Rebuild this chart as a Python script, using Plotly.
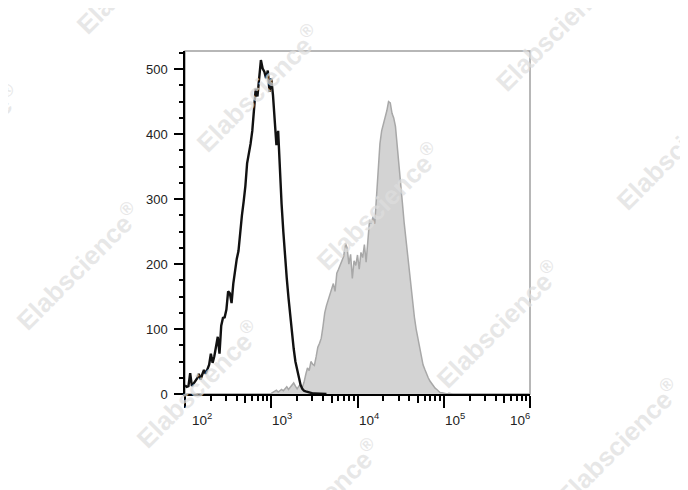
import numpy as np
import plotly.graph_objects as go

# ---- data ----
# histogram counts, channels spaced 0.02 decades apart
black_start = 2.00
black_counts = [13, 11, 12, 32, 12, 16, 19, 24, 31, 22, 30, 37, 31, 38, 45, 62, 48, 58, 76, 88,
                62, 105, 117, 118, 130, 158, 155, 140, 170, 192, 208, 220, 255, 275, 296, 320, 355,
                368, 385, 405, 435, 470, 458, 488, 514, 501, 496, 486, 498, 465, 486, 460, 419, 383,
                405, 337, 292, 250, 210, 178, 148, 120, 95, 70, 50, 36, 22, 14, 8, 5, 4, 3, 2, 2, 1,
                1, 1, 0, 1, 0, 0, 0, 0]
gray_start = 3.00
gray_counts = [1, 3, 4, 6, 3, 5, 7, 5, 9, 11, 7, 10, 14, 17, 12, 8, 12, 15, 10, 18, 30, 40, 36, 50,
               46, 44, 57, 72, 78, 86, 104, 125, 136, 145, 155, 165, 170, 158, 186, 192, 198, 204,
               212, 232, 225, 200, 215, 178, 205, 198, 214, 192, 218, 210, 230, 203, 240, 268, 262,
               273, 262, 298, 345, 385, 405, 415, 426, 436, 450, 448, 432, 425, 412, 385, 355, 325,
               295, 265, 240, 210, 195, 168, 140, 118, 100, 85, 70, 55, 45, 38, 30, 25, 20, 16, 12,
               9, 7, 4, 2, 2, 1, 1, 0, 1, 0, 0]
channel_step = 0.02

y_ticks = [0, 100, 200, 300, 400, 500]
x_decades = [2, 3, 4, 5, 6]
x_tick_labels = ["10<sup>2</sup>", "10<sup>3</sup>", "10<sup>4</sup>", "10<sup>5</sup>", "10<sup>6</sup>"]
watermark_text = "Elabscience<sup>®</sup>"

# ---- derived ----
bx = 10 ** (black_start + channel_step * np.arange(len(black_counts)))
gx = 10 ** (gray_start + channel_step * np.arange(len(gray_counts)))
major_x = [10 ** d for d in x_decades]
minor_x = [m * 10 ** d for d in x_decades[:-1] for m in (2, 3, 4, 6, 7, 8, 9)]
mid_x = [5 * 10 ** d for d in x_decades[:-1]]

fig = go.Figure()
fig.add_trace(go.Scatter(x=gx, y=gray_counts, mode="lines", fill="tozeroy",
                         fillcolor="#d3d3d3", line=dict(color="#a8a8a8", width=1.5),
                         hoverinfo="skip", showlegend=False))
fig.add_trace(go.Scatter(x=bx, y=black_counts, mode="lines",
                         line=dict(color="#111111", width=2.4),
                         hoverinfo="skip", showlegend=False))
# helper trace so the medium-tick axis is drawn
fig.add_trace(go.Scatter(x=[major_x[0]], y=[0], xaxis="x2", mode="lines",
                         hoverinfo="skip", showlegend=False))

font = dict(family="Liberation Sans, Arial, sans-serif", size=13, color="#222222")

# the page body adds an 8 px offset, so the figure is 8 px smaller than the window
fig.update_layout(
    width=680, height=482,
    margin=dict(l=177, r=158, t=43, b=96),
    paper_bgcolor="white", plot_bgcolor="white",
    font=font,
    xaxis=dict(type="log", range=[x_decades[0], x_decades[-1]], showgrid=False, zeroline=False,
               showline=True, linecolor="black", linewidth=2,
               ticks="outside", tickvals=major_x, ticklen=12, tickwidth=2, tickcolor="black",
               showticklabels=False,
               minor=dict(tickvals=minor_x, ticks="outside", ticklen=5, tickwidth=1.5,
                          tickcolor="black", showgrid=False)),
    xaxis2=dict(type="log", range=[x_decades[0], x_decades[-1]], overlaying="x", anchor="y",
                side="bottom", showgrid=False, zeroline=False, showline=False,
                ticks="outside", tickvals=mid_x, ticklen=8, tickwidth=1.5, tickcolor="black",
                showticklabels=False),
    yaxis=dict(range=[0, 528], showgrid=False, zeroline=False,
               showline=True, linecolor="black", linewidth=1.5,
               ticks="outside", tickvals=y_ticks, ticklen=9, tickwidth=2, tickcolor="black",
               ticklabelstandoff=4,
               minor=dict(dtick=25, ticks="outside", ticklen=4, tickwidth=1.5,
                          tickcolor="black", showgrid=False)),
)

# gray frame (top / right)
fig.add_shape(type="rect", xref="paper", yref="paper", x0=0, y0=0, x1=1, y1=1,
              line=dict(color="#a0a0a0", width=1.5), layer="below")

# x tick labels
for i, (v, t) in enumerate(zip(major_x, x_tick_labels)):
    if i == 0:
        anchor, shift = "left", 5
    elif i == len(major_x) - 1:
        anchor, shift = "right", 2
    else:
        anchor, shift = "left", -1
    fig.add_annotation(x=np.log10(v), y=0, xref="x", yref="paper", text=t, showarrow=False,
                       xanchor=anchor, yanchor="top", xshift=shift, yshift=-14,
                       font=dict(family=font["family"], size=13.5, color="#222222"))

# watermarks (pixel centres in the 688x490 page)
wm_px = [(138, -30), (258, 88), (378, 206), (498, 324), (618, 442),
         (-42, 148), (78, 266), (198, 384), (318, 502), (558, 28), (678, 146)]
pl, pr, pt, pb = 185, 530, 51, 394
for (px, py) in wm_px:
    fig.add_annotation(x=(px - pl) / (pr - pl), y=(pb - py) / (pb - pt), xref="paper", yref="paper",
                       text=watermark_text, showarrow=False, textangle=-45,
                       xanchor="center", yanchor="middle",
                       font=dict(family="Liberation Sans, Arial, sans-serif", size=26,
                                 color="rgba(222,222,222,0.72)", weight="bold"))

fig.write_html("out.html")
